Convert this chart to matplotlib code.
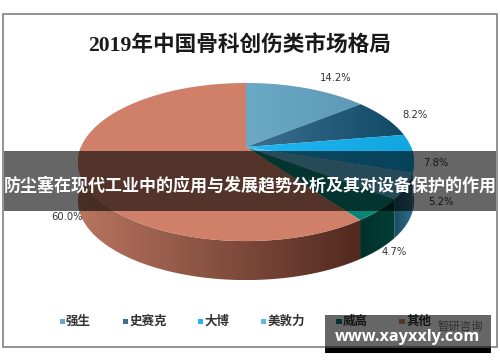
import matplotlib
matplotlib.use("Agg")
import matplotlib.pyplot as plt
import numpy as np
from matplotlib.colors import LinearSegmentedColormap
from matplotlib.patches import Polygon, Rectangle

plt.rcParams['font.family'] = ['Noto Sans CJK SC', 'DejaVu Sans']

title = "2019年中国骨科创伤类市场格局"
banner = "防尘塞在现代工业中的应用与发展趋势分析及其对设备保护的作用"
site = "www.xayxxly.com"
brand = "智研咨询"

names = ["强生", "史赛克", "大博", "美敦力", "威高", "其他"]
shares = [14.2, 8.2, 7.8, 5.2, 4.7, 60.0]
top_left = ["#6aa8c6", "#3d6f91", "#1fb6f2", "#62b9dd", "#0a8477", "#d08069"]
top_right = ["#5e9ab8", "#0f4a66", "#12a6e0", "#62b9dd", "#0a8477", "#d08069"]
side_left = ["#3f7590", "#123f55", "#0b6f96", "#1c4c60", "#02302a", "#b87560"]
side_right = ["#3f7590", "#123f55", "#0b5f80", "#2f6f8c", "#033f37", "#52291f"]

# pie layout in pixels
cx, apex_y = 246, 147
rad_x, rad_y, tilt = 165, 76.2, 0.19
depth = 39


def project(angle):
    # clockwise angle from the top, seen in perspective
    u, v = np.sin(angle), np.cos(angle)
    d = 1 + tilt * v
    return cx + rad_x * u / d, apex_y - rad_y * v / d


def fill_gradient(pts, c1, c2, z):
    # polygon filled with a left to right gradient
    poly = Polygon(pts, fc="none", ec="none", zorder=z)
    ax.add_patch(poly)
    cmap = LinearSegmentedColormap.from_list("s", [c1, c2])
    im = ax.imshow(np.linspace(0, 1, 200)[None, :], cmap=cmap, aspect="auto",
                   extent=(pts[:, 0].min(), pts[:, 0].max(), pts[:, 1].max(), pts[:, 1].min()),
                   zorder=z)
    im.set_clip_path(poly)


fig = plt.figure(figsize=(5, 3.62), dpi=100)
ax = fig.add_axes([0, 0, 1, 1])
ax.set_xlim(0, 500)
ax.set_ylim(362, 0)
ax.axis("off")

ax.add_patch(Rectangle((2.5, 13.5), 494, 333, fc="white", ec="#808080", lw=1.2, zorder=1))

edges = 2 * np.pi * np.concatenate([[0], np.cumsum(shares)]) / sum(shares)

# side wall, only the part facing the viewer
for i in range(len(shares)):
    lo = max(edges[i], np.pi / 2)
    hi = min(edges[i + 1], 3 * np.pi / 2)
    if hi <= lo:
        continue
    px, py = project(np.linspace(lo, hi, 200))
    pts = np.column_stack([np.r_[px, px[::-1]], np.r_[py, py[::-1] + depth]])
    fill_gradient(pts, side_left[i], side_right[i], 2)

# top face
for i in range(len(shares)):
    px, py = project(np.linspace(edges[i], edges[i + 1], 200))
    pts = np.column_stack([np.r_[cx, px], np.r_[apex_y, py]])
    fill_gradient(pts, top_left[i], top_right[i], 3)
ax.set_xlim(0, 500)
ax.set_ylim(362, 0)

ax.text(240, 45, title, ha="center", va="center", fontsize=15.6, weight="bold",
        family=["Liberation Serif", "Noto Sans CJK SC"], color="#1a1a1a", zorder=4)

# value labels
label_x = [336, 415, 436, 441, 394, 67]
label_y = [78, 115, 163, 202, 252, 217]
for v, lx, ly in zip(shares, label_x, label_y):
    ax.text(lx, ly, f"{v:.1f}%", ha="center", va="center", fontsize=7.2,
            family="DejaVu Sans", color="#333333", zorder=4)

# legend
key_x = [62, 125, 200, 263, 338.5, 401.5]
name_x = [66, 130, 204, 268, 343, 407]
for n, k, t, c in zip(names, key_x, name_x, top_left):
    ax.add_patch(Rectangle((k - 2.5, 318.5), 5.5, 5.5, fc=c, ec="none", zorder=4))
    ax.text(t, 321, n, ha="left", va="center", fontsize=9, weight="bold", color="#333333", zorder=4)
ax.text(460, 327, brand, ha="center", va="center", fontsize=8.2, color="#777777", zorder=4)

# overlays
ax.add_patch(Rectangle((4, 151), 492, 60, fc="black", alpha=0.6, ec="none", zorder=5))
ax.text(250, 185, banner, ha="center", va="center", fontsize=12.25, weight="bold", color="white", zorder=6)
ax.add_patch(Rectangle((325, 315), 166, 33, fc="black", alpha=0.6, ec="none", zorder=5))
ax.add_patch(Rectangle((325, 348), 166, 5, fc="black", ec="none", zorder=5))
ax.text(407.5, 337, site, ha="center", va="center", fontsize=11.7, weight="bold",
        family="Open Sans", color="white", zorder=6)

fig.savefig("out.png", dpi=100)
